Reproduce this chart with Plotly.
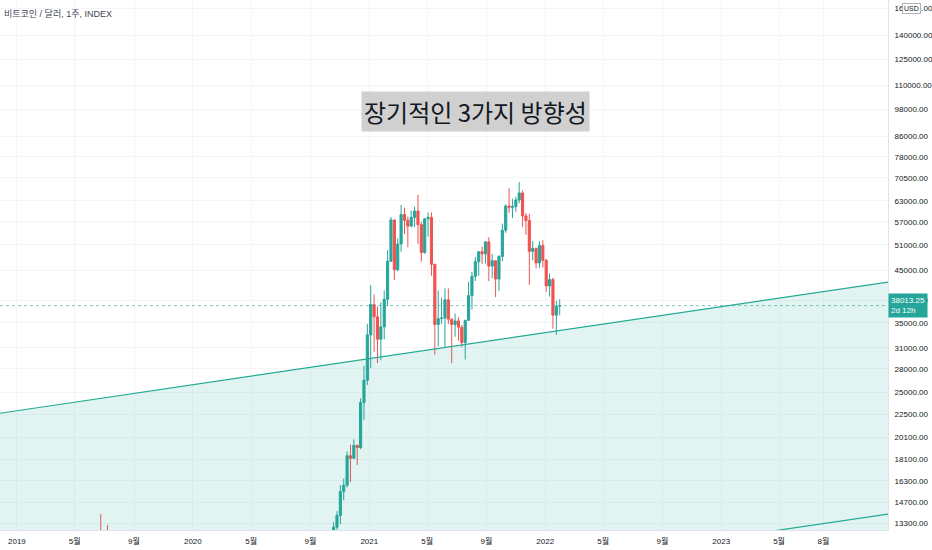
import numpy as np
import pandas as pd
import plotly.graph_objects as go

# weekly candles, summer 2019 (only the wicks reach into view)
weeks_2019 = pd.date_range('2019-06-17', periods=5, freq='7D')
open_2019 = [8990, 10820, 10590, 11480, 10260]
high_2019 = [11220, 13880, 12000, 13180, 11090]
low_2019 = [8970, 10320, 9650, 10880, 9080]
close_2019 = [10820, 10590, 11480, 10260, 9850]

# weekly candles, Oct 2020 - Jan 2022
weeks_2021 = pd.date_range('2020-10-19', periods=68, freq='7D')
open_2021 = [11370, 13030, 13800, 15480, 15960, 18410, 18180, 19360, 19140, 23800,
             26500, 33000, 38200, 36000, 32300, 34300, 39200, 47100, 57500, 45200,
             51200, 59000, 57400, 55800, 58200, 60000, 56200, 49100, 57800, 58200,
             46400, 34700, 35700, 35800, 39100, 35600, 34700, 35300, 34250, 31800,
             35400, 39900, 43800, 47000, 49300, 48800, 51700, 46000, 47200, 43200,
             48200, 54700, 61500, 61100, 61300, 63300, 65500, 58600, 57300, 49400,
             50100, 46700, 50800, 47300, 41800, 43100, 36300, 37900]
high_2021 = [13350, 14090, 15970, 16490, 18790, 19420, 19920, 19420, 24300, 28400,
             34800, 41950, 40100, 37800, 38600, 40900, 49700, 58300, 57500, 52600,
             61800, 61000, 58400, 60200, 61300, 64900, 57000, 58000, 59600, 59600,
             46500, 40900, 39500, 41300, 41300, 35700, 36600, 35900, 34600, 35500,
             42600, 44700, 48100, 49400, 50500, 51900, 52900, 48800, 47300, 48500,
             56500, 62000, 67000, 63700, 64300, 69000, 66300, 59400, 59200, 51900,
             50300, 51900, 52100, 47600, 44400, 43500, 38900, 39200]
low_2021 = [11300, 12880, 13220, 14850, 15800, 16200, 18150, 17600, 19000, 21900,
            25900, 28100, 30400, 28800, 29200, 32300, 37900, 46900, 43000, 44900,
            49300, 53700, 50400, 55500, 55500, 51200, 47000, 48800, 53000, 43900,
            30000, 31200, 34800, 31000, 34800, 28800, 32700, 32100, 31100, 29300,
            35300, 37300, 42800, 43900, 46500, 46600, 42800, 43400, 39600, 40800,
            47100, 54000, 59500, 58000, 59800, 62300, 55600, 53500, 42000, 47300,
            45500, 45600, 45700, 40600, 39700, 34000, 33000, 36300]
close_2021 = [13030, 13800, 15480, 15960, 18410, 18180, 19360, 19140, 23800, 26500,
              33000, 38200, 36000, 32300, 34300, 39200, 47100, 57500, 45200, 51200,
              59000, 57400, 55800, 58200, 60000, 56200, 49100, 57800, 58200, 46400,
              34700, 35700, 35800, 39100, 35600, 34700, 35300, 34250, 31800, 35400,
              39900, 43800, 47000, 49300, 48800, 51700, 46000, 47200, 43200, 48200,
              54700, 61500, 61100, 61300, 63300, 65500, 58600, 57300, 49400, 50100,
              46700, 50800, 47300, 41800, 43100, 36300, 37900, 38013.25]

last_price = 38013.25

# parallel channel drawn on the chart (end points at the chart edges)
channel_dates = ['2018-11-27', '2023-12-13']
channel_upper = [22600, 42590]
channel_lower = [7390, 13890]
channel_floor = [1000, 1000]

price_ticks = [13300, 14700, 16300, 18100, 20100, 22500, 25000, 28000, 31000, 35000,
               39000, 45000, 51000, 57000, 63000, 70500, 78000, 86000, 98000, 110000,
               125000, 140000, 160000]
date_ticks = ['2019-01-01', '2019-05-01', '2019-09-01', '2020-01-01', '2020-05-01',
              '2020-09-01', '2021-01-01', '2021-05-01', '2021-09-01', '2022-01-01',
              '2022-05-01', '2022-09-01', '2023-01-01', '2023-05-01', '2023-08-01']
date_labels = ['2019', '5월', '9월', '2020', '5월', '9월', '2021', '5월', '9월', '2022',
               '5월', '9월', '2023', '5월', '8월']

UP = '#26a69a'
DOWN = '#ef5350'
CHANNEL = '#22ab94'
GRID = '#f3f5f9'
FONT = 'Liberation Sans, Noto Sans CJK KR, sans-serif'

fig = go.Figure()

# shaded zone under the upper channel line
fig.add_trace(go.Scatter(x=channel_dates, y=channel_floor, mode='lines',
                         line=dict(width=0), hoverinfo='skip'))
fig.add_trace(go.Scatter(x=channel_dates, y=channel_upper, mode='lines',
                         line=dict(color=CHANNEL, width=1.2),
                         fill='tonexty', fillcolor='rgba(34,171,148,0.13)'))
fig.add_trace(go.Scatter(x=channel_dates, y=channel_lower, mode='lines',
                         line=dict(color=CHANNEL, width=1.2)))

# current price line
fig.add_trace(go.Scatter(x=channel_dates, y=[last_price, last_price], mode='lines',
                         line=dict(color='rgba(38,166,154,0.6)', width=1, dash='dot'),
                         hoverinfo='skip'))

for wk, o, h, l, c in [(weeks_2019, open_2019, high_2019, low_2019, close_2019),
                       (weeks_2021, open_2021, high_2021, low_2021, close_2021)]:
    fig.add_trace(go.Candlestick(
        x=wk, open=o, high=h, low=l, close=c,
        increasing=dict(line=dict(color=UP, width=1), fillcolor=UP),
        decreasing=dict(line=dict(color=DOWN, width=1), fillcolor=DOWN),
        whiskerwidth=0))

fig.update_layout(
    width=932, height=550,
    margin=dict(l=0, r=44, t=0, b=20),
    paper_bgcolor='white', plot_bgcolor='white',
    showlegend=False,
    font=dict(family=FONT, size=8, color='#131722'),
    boxgap=0.1,
)

fig.update_xaxes(type='date', range=channel_dates,
                 tickvals=date_ticks, ticktext=date_labels,
                 showgrid=True, gridcolor=GRID, gridwidth=1,
                 showline=True, linecolor='#e0e3eb', ticks='',
                 ticklabelstandoff=3,
                 tickfont=dict(size=8, color='#131722'),
                 rangeslider=dict(visible=False), automargin=False)

fig.update_yaxes(type='log', side='right',
                 range=[np.log10(12860), np.log10(166300)],
                 tickvals=price_ticks, ticktext=['%.2f' % v for v in price_ticks],
                 showgrid=True, gridcolor=GRID, gridwidth=1,
                 showline=True, linecolor='#e0e3eb', ticks='',
                 ticklabelstandoff=4, zeroline=False,
                 tickfont=dict(size=8, color='#131722'), automargin=False)

# symbol caption, top left
fig.add_annotation(xref='paper', yref='paper', x=0, y=1, xanchor='left', yanchor='top',
                   xshift=2, yshift=-6, showarrow=False,
                   text='비트코인 / 달러, 1주, INDEX',
                   font=dict(family=FONT, size=9, color='#434651'))

# text box drawn on the chart
fig.add_annotation(xref='paper', yref='paper', x=0.535, y=0.789,
                   xanchor='center', yanchor='middle', showarrow=False,
                   text='장기적인 3가지 방향성', bgcolor='#d0d0d0', borderpad=2,
                   font=dict(family='Noto Sans CJK KR', size=24, color='#131722'))

# last price tag on the price scale
fig.add_annotation(xref='paper', yref='y', x=1, y=np.log10(last_price),
                   xanchor='left', yanchor='middle', align='left', showarrow=False,
                   text='38013.25<br>2d 12h', bgcolor=UP, borderpad=2,
                   font=dict(family=FONT, size=8, color='white'))

fig.add_annotation(xref='paper', yref='paper', x=1, y=1, xanchor='left', yanchor='top',
                   xshift=14, yshift=-3, showarrow=False, text='USD',
                   bgcolor='white', bordercolor='#b2b5be', borderwidth=1, borderpad=1,
                   font=dict(family=FONT, size=7, color='#131722'))

# drop the browser's default page margin so the chart fills the window
fig.write_html("out.html", config={'displayModeBar': False},
               post_script="document.body.style.margin='0';")
